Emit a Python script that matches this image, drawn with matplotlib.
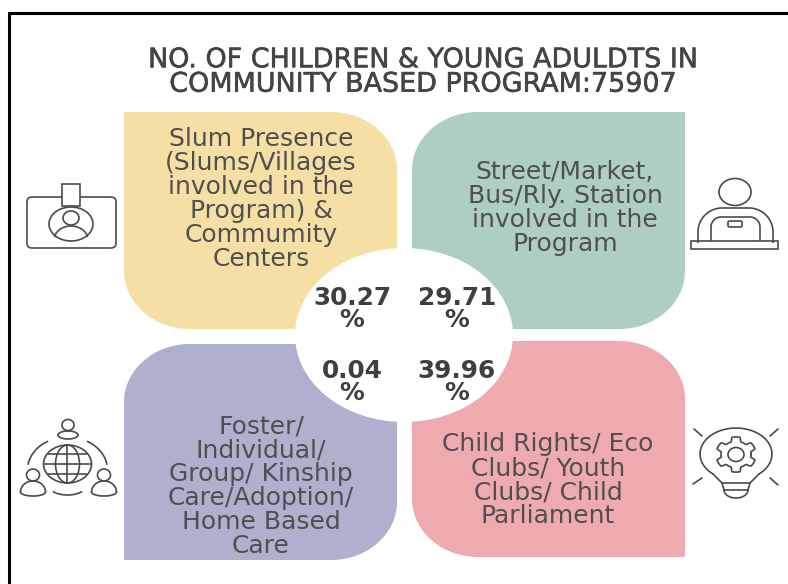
import numpy as np
import matplotlib
matplotlib.use("Agg")
import matplotlib.pyplot as plt
import matplotlib.patheffects as pe
from matplotlib.path import Path
from matplotlib.patches import PathPatch, Ellipse, FancyBboxPatch, Rectangle

title_lines = ["NO. OF CHILDREN & YOUNG ADULDTS IN", "COMMUNITY BASED PROGRAM:75907"]
labels = [
    "Slum Presence\n(Slums/Villages\ninvolved in the\nProgram) &\nCommumity\nCenters",
    "Street/Market,\nBus/Rly. Station\ninvolved in the\nProgram",
    "Foster/\nIndividual/\nGroup/ Kinship\nCare/Adoption/\nHome Based\nCare",
    "Child Rights/ Eco\nClubs/ Youth\nClubs/ Child\nParliament",
]
percents = ["30.27", "29.71", "0.04", "39.96"]
colors = ["#f6dfa4", "#afcec3", "#afb0ce", "#efaab0"]

ICON = "#4a4a4a"
TEXT = "#4f4f4f"
FONT = "DejaVu Sans"

fig = plt.figure(figsize=(7.88, 5.84), dpi=100)
ax = fig.add_axes([0, 0, 1, 1])
ax.set_xlim(0, 788)
ax.set_ylim(584, 0)
ax.axis("off")


def panel(x0, y0, x1, y1, rounded_tr_bl, rx=66, ry=58):
    # two opposite corners are rounded, the other two stay square
    k = 0.5523
    if rounded_tr_bl:
        verts = [(x0, y0), (x1 - rx, y0), (x1 - rx + k * rx, y0), (x1, y0 + ry - k * ry), (x1, y0 + ry),
                 (x1, y1), (x0 + rx, y1), (x0 + rx - k * rx, y1), (x0, y1 - ry + k * ry), (x0, y1 - ry), (x0, y0)]
        codes = [Path.MOVETO, Path.LINETO, Path.CURVE4, Path.CURVE4, Path.CURVE4,
                 Path.LINETO, Path.LINETO, Path.CURVE4, Path.CURVE4, Path.CURVE4, Path.CLOSEPOLY]
    else:
        verts = [(x0 + rx, y0), (x1, y0), (x1, y1 - ry), (x1, y1 - ry + k * ry), (x1 - rx + k * rx, y1), (x1 - rx, y1),
                 (x0, y1), (x0, y0 + ry), (x0, y0 + ry - k * ry), (x0 + rx - k * rx, y0), (x0 + rx, y0)]
        codes = [Path.MOVETO, Path.LINETO, Path.LINETO, Path.CURVE4, Path.CURVE4, Path.CURVE4,
                 Path.LINETO, Path.LINETO, Path.CURVE4, Path.CURVE4, Path.CURVE4]
    return Path(verts, codes)


def line(xs, ys, lw=1.2):
    ax.plot(xs, ys, color=ICON, lw=lw, solid_capstyle="round", zorder=4)


def ring(x, y, rx, ry=None, lw=1.2):
    ry = rx if ry is None else ry
    ax.add_patch(Ellipse((x, y), 2 * rx, 2 * ry, fc="none", ec=ICON, lw=lw, zorder=4))


def box(x0, y0, x1, y1, r=3, lw=1.2):
    ax.add_patch(FancyBboxPatch((x0 + r, y0 + r), x1 - x0 - 2 * r, y1 - y0 - 2 * r,
                                boxstyle=f"round,pad={r},rounding_size={r}",
                                fc="none", ec=ICON, lw=lw, zorder=4))


def arc(x, y, rx, ry, t0, t1, lw=1.2):
    t = np.radians(np.linspace(t0, t1, 40))
    line(x + rx * np.cos(t), y + ry * np.sin(t), lw)


def hood(x0, x1, y_top, y_bottom, r):
    # open shape: straight sides, rounded shoulders, flat top
    k = 0.5523
    verts = [(x0, y_bottom), (x0, y_top + r), (x0, y_top + r - k * r), (x0 + r - k * r, y_top), (x0 + r, y_top),
             (x1 - r, y_top), (x1 - r + k * r, y_top), (x1, y_top + r - k * r), (x1, y_top + r), (x1, y_bottom)]
    codes = [Path.MOVETO, Path.LINETO, Path.CURVE4, Path.CURVE4, Path.CURVE4,
             Path.LINETO, Path.CURVE4, Path.CURVE4, Path.CURVE4, Path.LINETO]
    ax.add_patch(PathPatch(Path(verts, codes), fc="none", ec=ICON, lw=1.2, zorder=4))


def person(x, y_head, rx, head_r, y0, y1):
    # head plus a closed, rounded body between y0 and y1
    ring(x, y_head, head_r, head_r * 0.92)
    arc(x, y1 - 4, rx, y1 - 4 - y0, 180, 360)
    arc(x, y1 - 4, rx, 4, 0, 180)


def badge_icon():
    box(27, 197, 116, 248, r=5)
    ax.add_patch(Rectangle((62, 184), 18, 22, fc="white", ec=ICON, lw=1.2, zorder=4))
    ring(71, 224, 22, 17)
    ring(71, 218, 8, 7)
    arc(71, 240, 17, 14, 195, 345)


def desk_icon():
    ring(735, 192, 16, 13.5)
    hood(698, 773, 208, 243, 24)
    hood(711, 760, 217, 241, 10)
    box(728, 221, 742, 227, r=1.5)
    ax.add_patch(Rectangle((691.5, 241), 87, 7.5, fc="none", ec=ICON, lw=1.2, zorder=4))


def network_icon():
    ring(67.5, 464, 24, 19)
    ring(67.5, 464, 12, 19)
    line([67.5, 67.5], [445, 483])
    line([44, 91.5], [464, 464])
    line([48, 87], [454, 454])
    line([48, 87], [474, 474])
    person(68, 425, 10, 6, 431, 439)
    person(33, 475, 12.5, 6.5, 481, 496)
    person(104, 475, 12.5, 6.5, 481, 496)
    arc(67.5, 470, 40, 33, 190, 240)
    arc(67.5, 470, 40, 33, 300, 350)
    arc(67.5, 484, 20, 11, 45, 135)


def bulb_icon():
    cx, cy = 736, 454
    arc(cx, cy, 36, 26, 130, 410)
    line([cx - 23, cx - 14], [cy + 20, cy + 29])
    line([cx + 23, cx + 14], [cy + 20, cy + 29])
    line([cx - 14, cx + 14], [cy + 29, cy + 29])
    line([cx - 12, cx + 12], [cy + 36, cy + 36])
    line([cx - 14, cx - 12], [cy + 29, cy + 36])
    line([cx + 14, cx + 12], [cy + 29, cy + 36])
    arc(cx, cy + 36, 12, 8, 0, 180)
    # cog outline, teeth at top and bottom
    t = np.radians(np.arange(0, 361, 3))
    r = 17.5 + 2.5 * np.clip(-3 * np.cos(6 * t), -1, 1)
    line(cx + r * np.cos(t), cy + 0.5 + 0.88 * r * np.sin(t))
    ring(cx, cy + 0.5, 8, 7)
    for x0, y0, x1, y1 in [(694, 429, 702, 436), (778, 429, 770, 436), (693, 484, 702, 478), (778, 485, 770, 478)]:
        line([x0, x1], [y0, y1])


panel_boxes = [(124, 112, 397, 329), (412, 112, 685, 329), (124, 344, 397, 560), (412, 341, 685, 557)]
for i, (bx, c) in enumerate(zip(panel_boxes, colors)):
    x0, y0, x1, y1 = bx
    ax.add_patch(PathPatch(panel(x0, y0, x1, y1, i in (0, 3)), fc=c, ec="none", zorder=1))

# white oval over the inner corners
ax.add_patch(Ellipse((404, 335), 218, 174, fc="white", ec="none", zorder=2))

# frame, top and left edge only
ax.plot([9, 9, 788], [584, 13, 13], color="black", lw=2.2, solid_joinstyle="miter", zorder=5)

title = ax.text(422, 72.5, "\n".join(title_lines), ha="center", va="center", fontsize=19.4,
                color="#444444", family=FONT, linespacing=0.92)
title.set_path_effects([pe.withStroke(linewidth=0.4, foreground="#444444")])

label_xy = [(261, 199), (565, 208), (261, 486), (548, 480)]
for (x, y), s in zip(label_xy, labels):
    ax.text(x, y, s, ha="center", va="center", fontsize=18, color=TEXT, family=FONT,
            linespacing=1.0, zorder=3)

pct_xy = [(352, 309), (457, 309), (352, 382), (457, 382)]
for (x, y), p in zip(pct_xy, percents):
    ax.text(x, y, p + "\n%", ha="center", va="center", fontsize=17.8, color="#3f3f3f", family=FONT,
            fontweight="bold", linespacing=0.92, zorder=3)

badge_icon()
desk_icon()
network_icon()
bulb_icon()

fig.savefig("out.png", dpi=100, facecolor="white")
